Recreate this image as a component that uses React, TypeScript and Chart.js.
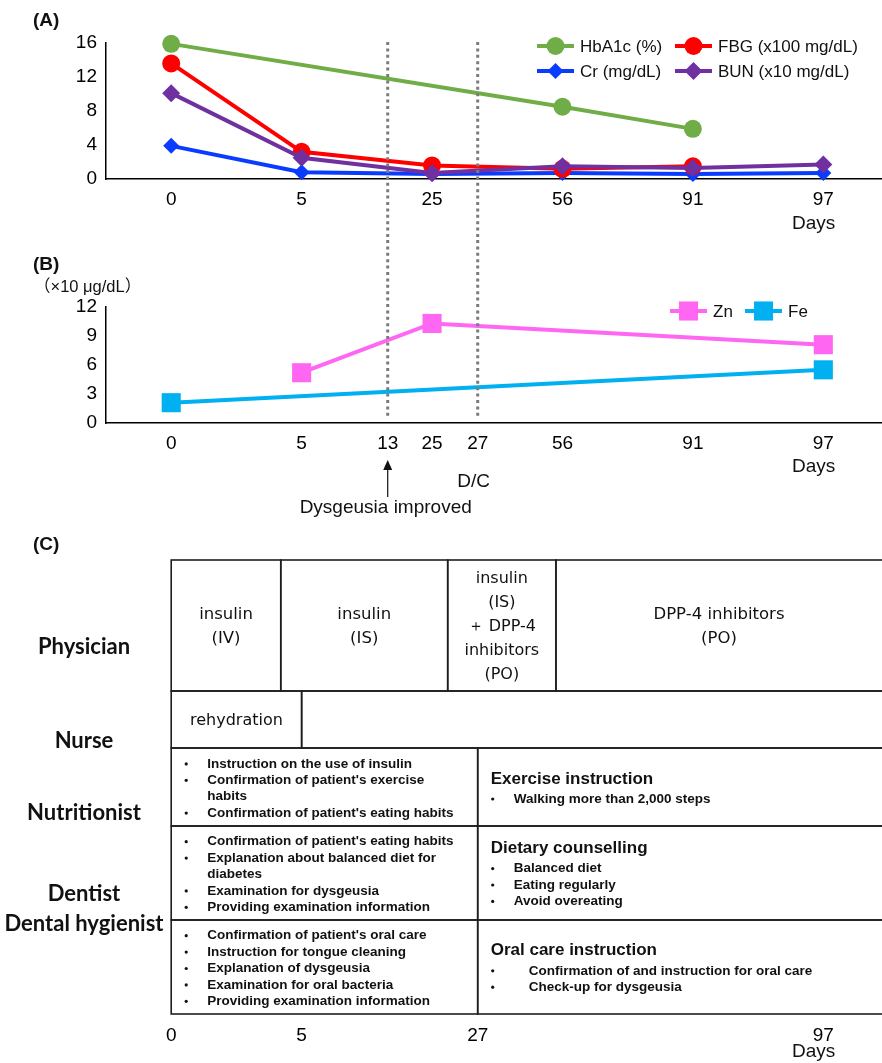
import React, { useEffect, useRef } from 'react';
import { Chart, registerables } from 'chart.js';

Chart.register(...registerables);

const SANS = '"Liberation Sans", Arial, Helvetica, sans-serif';
const WIDE = '"DejaVu Sans", "Liberation Sans", sans-serif';
const ROLE = 'Lato, "Open Sans", sans-serif';
const CJK = '"Liberation Sans", "Noto Sans CJK JP", sans-serif';

// Common horizontal axis: the days shown, and the slot where the figure places each day
const axisDays = [0, 5, 13, 25, 27, 56, 91, 97];
const axisSlots = [0, 1, 1.66, 2, 2.35, 3, 4, 5];
const slotOf = (d: number) => axisSlots[axisDays.indexOf(d)];

// (A) laboratory values
const daysA = [0, 5, 25, 56, 91, 97];
const hba1c = [15.9, null, null, 8.5, 5.9, null];
const fbg = [13.6, 3.2, 1.6, 1.2, 1.5, null];
const cr = [3.9, 0.8, 0.6, 0.7, 0.6, 0.7];
const bun = [10.1, 2.5, 0.7, 1.5, 1.3, 1.7];
const yTicksA = [0, 4, 8, 12, 16];
const labelsA = ['HbA1c (%)', 'FBG (x100 mg/dL)', 'Cr (mg/dL)', 'BUN (x10 mg/dL)'];

// (B) trace elements
const daysB = [0, 5, 13, 25, 27, 56, 91, 97];
const zn = [null, 5.2, null, 10.3, null, null, null, 8.1];
const fe = [2.1, null, null, null, null, null, null, 5.5];
const yTicksB = [0, 3, 6, 9, 12];
const labelsB = ['Zn', 'Fe'];

// Events (dotted lines)
const eventDays = [13, 27];
const eventNotes = ['Dysgeusia improved', 'D/C'];

// (C) care timeline
const daysC = [0, 5, 27, 97];
const roleNames = ['Physician', 'Nurse', 'Nutritionist', 'Dentist', 'Dental hygienist'];
const roleLabelAt = [87, 181, 253, 334, 364];
const rowHeights = [131, 57, 78, 94, 94];
const physicianCells = [
  { from: 0, to: 0.84, text: ['insulin', '(IV)'], size: 16.5 },
  { from: 0.84, to: 2.12, text: ['insulin', '(IS)'], size: 16.5 },
  { from: 2.12, to: 2.95, text: ['insulin', '(IS)', '＋ DPP-4', 'inhibitors', '(PO)'], size: 16 },
  { from: 2.95, to: 5.6, text: ['DPP-4 inhibitors', '(PO)'], size: 16.5 },
];
const nurseCells = [
  { from: 0, to: 1, text: ['rehydration'], size: 16 },
  { from: 1, to: 5.6, text: [], size: 16 },
];
const earlyCare = [
  ['Instruction on the use of insulin', "Confirmation of patient's exercise\nhabits", "Confirmation of patient's eating habits"],
  ["Confirmation of patient's eating habits", 'Explanation about balanced diet for\ndiabetes', 'Examination for dysgeusia', 'Providing examination information'],
  ["Confirmation of patient's oral care", 'Instruction for tongue cleaning', 'Explanation of dysgeusia', 'Examination for oral bacteria', 'Providing examination information'],
];
const laterHeads = ['Exercise instruction', 'Dietary counselling', 'Oral care instruction'];
const laterCare = [
  ['Walking more than 2,000 steps'],
  ['Balanced diet', 'Eating regularly', 'Avoid overeating'],
  ['Confirmation of and instruction for oral care', 'Check-up for dysgeusia'],
];
const careSplit = 2.35;

const X_MIN = -0.5;
const X_MAX = 5.45;

function dayScale(days: number[], axisHeight: number, showLine: boolean, pad: number) {
  return {
    type: 'linear',
    min: X_MIN,
    max: X_MAX,
    grid: { display: false, drawTicks: false },
    border: { display: showLine, color: '#000', width: 1.5 },
    afterBuildTicks: (s: any) => {
      s.ticks = days.map((d) => ({ value: slotOf(d) }));
    },
    afterFit: (s: any) => {
      s.height = axisHeight;
      s.paddingLeft = 0;
      s.paddingRight = 0;
    },
    ticks: {
      autoSkip: false,
      maxRotation: 0,
      minRotation: 0,
      padding: pad,
      color: '#000',
      font: { family: SANS, size: 19 },
      callback: (_v: any, i: number) => String(days[i]),
    },
  };
}

function valueScale(max: number, ticks: number[]) {
  return {
    type: 'linear',
    min: 0,
    max,
    grid: { display: false, drawTicks: false },
    border: { display: true, color: '#000', width: 1.5 },
    afterBuildTicks: (s: any) => {
      s.ticks = ticks.map((v) => ({ value: v }));
    },
    afterFit: (s: any) => {
      s.width = 106;
      s.paddingTop = 0;
      s.paddingBottom = 0;
    },
    ticks: { padding: 9, color: '#000', font: { family: SANS, size: 19 } },
  };
}

function series(label: string, days: number[], vals: (number | null)[], color: string, style: string, radius: number, order: number) {
  return {
    label,
    data: days.flatMap((d, i) => (vals[i] == null ? [] : [{ x: slotOf(d), y: vals[i] as number }])),
    borderColor: color,
    backgroundColor: color,
    borderWidth: 4,
    pointStyle: style,
    pointRadius: radius,
    pointHoverRadius: radius,
    pointBackgroundColor: color,
    pointBorderColor: color,
    pointBorderWidth: 0,
    clip: false,
    tension: 0,
    order,
  };
}

function mark(ctx: CanvasRenderingContext2D, style: string, x: number, y: number, r: number, color: string) {
  ctx.fillStyle = color;
  ctx.beginPath();
  if (style === 'circle') ctx.arc(x, y, r, 0, Math.PI * 2);
  else if (style === 'rectRot') {
    ctx.moveTo(x - r, y);
    ctx.lineTo(x, y - r);
    ctx.lineTo(x + r, y);
    ctx.lineTo(x, y + r);
    ctx.closePath();
  } else {
    const s = r * Math.SQRT1_2;
    ctx.rect(x - s, y - s, 2 * s, 2 * s);
  }
  ctx.fill();
}

function drawLegend(chart: any, x0: number, y0: number, colGap: number, rowGap: number, cols: number) {
  const ctx = chart.ctx as CanvasRenderingContext2D;
  ctx.save();
  ctx.font = `17px ${SANS}`;
  ctx.textBaseline = 'middle';
  ctx.textAlign = 'left';
  chart.data.datasets.forEach((ds: any, i: number) => {
    const x = x0 + (i % cols) * colGap;
    const y = y0 + Math.floor(i / cols) * rowGap;
    ctx.strokeStyle = ds.borderColor;
    ctx.lineWidth = 4;
    ctx.beginPath();
    ctx.moveTo(x, y);
    ctx.lineTo(x + 37, y);
    ctx.stroke();
    mark(ctx, ds.pointStyle, x + 18.5, y, ds.pointRadius, ds.borderColor);
    ctx.fillStyle = '#111';
    ctx.fillText(ds.label, x + 43, y + 1);
  });
  ctx.restore();
}

function dotted(ctx: CanvasRenderingContext2D, xs: number[], y0: number, y1: number) {
  ctx.save();
  ctx.strokeStyle = '#7b7b7b';
  ctx.lineWidth = 3;
  ctx.setLineDash([3, 3.4]);
  xs.forEach((x) => {
    ctx.beginPath();
    ctx.moveTo(x, y0);
    ctx.lineTo(x, y1);
    ctx.stroke();
  });
  ctx.restore();
}

function text(ctx: CanvasRenderingContext2D, s: string, x: number, y: number, font: string, align: CanvasTextAlign = 'left') {
  ctx.save();
  ctx.font = font;
  ctx.fillStyle = '#111';
  ctx.textAlign = align;
  ctx.textBaseline = 'middle';
  ctx.fillText(s, x, y);
  ctx.restore();
}

const overlayA = {
  id: 'overlayA',
  afterDatasetsDraw(chart: any) {
    const x = chart.scales.x;
    dotted(chart.ctx, eventDays.map((d) => x.getPixelForValue(slotOf(d))), chart.chartArea.top - 1, chart.height);
  },
  afterDraw(chart: any) {
    const { ctx, chartArea, scales } = chart;
    text(ctx, '(A)', 33, 21, `bold 19px ${SANS}`);
    text(ctx, 'Days', scales.x.getPixelForValue(5) + 12, chartArea.bottom + 45, `19px ${SANS}`, 'right');
    drawLegend(chart, 537, 46, 138, 25, 2);
  },
};

const overlayB = {
  id: 'overlayB',
  afterDatasetsDraw(chart: any) {
    const x = chart.scales.x;
    dotted(chart.ctx, eventDays.map((d) => x.getPixelForValue(slotOf(d))), 0, chart.chartArea.bottom - 6);
  },
  afterDraw(chart: any) {
    const { ctx, chartArea, scales } = chart;
    const b = chartArea.bottom;
    text(ctx, '(B)', 33, 25, `bold 19px ${SANS}`);
    text(ctx, '（×10 μg/dL）', 34, 47, `16.5px ${CJK}`);
    text(ctx, 'Days', scales.x.getPixelForValue(5) + 12, b + 44, `19px ${SANS}`, 'right');
    const xa = scales.x.getPixelForValue(slotOf(eventDays[0]));
    ctx.save();
    ctx.strokeStyle = '#111';
    ctx.fillStyle = '#111';
    ctx.lineWidth = 1.2;
    ctx.beginPath();
    ctx.moveTo(xa, b + 44);
    ctx.lineTo(xa, b + 74);
    ctx.stroke();
    ctx.beginPath();
    ctx.moveTo(xa, b + 37);
    ctx.lineTo(xa - 4.5, b + 47);
    ctx.lineTo(xa + 4.5, b + 47);
    ctx.closePath();
    ctx.fill();
    ctx.restore();
    text(ctx, eventNotes[0], xa - 2, b + 85, `19px ${SANS}`, 'center');
    text(ctx, eventNotes[1], scales.x.getPixelForValue(slotOf(eventDays[1])) - 4, b + 59, `19px ${SANS}`, 'center');
    drawLegend(chart, 670, 71, 75, 25, 2);
  },
};

const tablePlugin = {
  id: 'careTable',
  afterDraw(chart: any) {
    const { ctx, chartArea, scales } = chart;
    const X = (s: number) => scales.x.getPixelForValue(s);
    const Y = (v: number) => scales.y.getPixelForValue(v);
    const bounds = [0];
    rowHeights.forEach((h) => bounds.push(bounds[bounds.length - 1] + h));
    ctx.save();
    text(ctx, '(C)', 33, 15, `bold 19px ${SANS}`);
    roleNames.forEach((n, i) => text(ctx, n, 84, Y(roleLabelAt[i]), `bold 22px ${ROLE}`, 'center'));
    ctx.strokeStyle = '#1e1e1e';
    ctx.lineWidth = 1.6;
    const box = (s0: number, s1: number, r: number) => {
      ctx.strokeRect(X(s0), Y(bounds[r]), X(s1) - X(s0), Y(bounds[r + 1]) - Y(bounds[r]));
    };
    const centered = (cells: any[], r: number) => {
      cells.forEach((c) => {
        box(c.from, c.to, r);
        const cx = (X(c.from) + Math.min(X(c.to), chartArea.right)) / 2;
        const cy = (Y(bounds[r]) + Y(bounds[r + 1])) / 2 + 1;
        const lh = 24;
        c.text.forEach((t: string, k: number) => {
          text(ctx, t, cx, cy + (k - (c.text.length - 1) / 2) * lh, `${c.size}px ${WIDE}`, 'center');
        });
      });
    };
    centered(physicianCells, 0);
    centered(nurseCells, 1);
    const lh = 16.4;
    const listFont = `bold 13.5px ${SANS}`;
    const bullet = (x: number, y: number) => {
      ctx.beginPath();
      ctx.fillStyle = '#111';
      ctx.arc(x, y, 1.6, 0, Math.PI * 2);
      ctx.fill();
    };
    earlyCare.forEach((items, k) => {
      const r = k + 2;
      box(0, careSplit, r);
      box(careSplit, 5.6, r);
      const lines: [boolean, string][] = [];
      items.forEach((it) => it.split('\n').forEach((s, j) => lines.push([j === 0, s])));
      const cy = (Y(bounds[r]) + Y(bounds[r + 1])) / 2 + 1.5;
      const left = X(0);
      lines.forEach(([b, s], j) => {
        const y = cy + (j - (lines.length - 1) / 2) * lh;
        if (b) bullet(left + 15, y);
        text(ctx, s, left + 36, y, listFont);
      });
      const rl = X(careSplit);
      const later = laterCare[k];
      const indent = k === 2 ? 51 : 36;
      const total = 20 + (later.length - 1) * lh;
      const hy = cy + 0.5 - total / 2;
      text(ctx, laterHeads[k], rl + 13, hy, `bold 17px ${SANS}`);
      later.forEach((s, j) => {
        const y = hy + 20 + j * lh;
        bullet(rl + 15, y);
        text(ctx, s, rl + indent, y, listFont);
      });
    });
    text(ctx, 'Days', X(5) + 12, chartArea.bottom + 38, `19px ${SANS}`, 'right');
    ctx.restore();
  },
};

function makeA(canvas: HTMLCanvasElement) {
  return new Chart(canvas, {
    type: 'line',
    data: {
      datasets: [
        series(labelsA[0], daysA, hba1c, '#70AD47', 'circle', 9, 0),
        series(labelsA[1], daysA, fbg, '#FF0000', 'circle', 9, 2),
        series(labelsA[2], daysA, cr, '#0A3CFF', 'rectRot', 8, 3),
        series(labelsA[3], daysA, bun, '#7030A0', 'rectRot', 9, 1),
      ],
    },
    options: {
      responsive: false,
      animation: false,
      events: [],
      layout: { autoPadding: false, padding: { top: 43, left: 0, right: 0, bottom: 0 } },
      plugins: { legend: { display: false }, tooltip: { enabled: false } },
      scales: { x: dayScale(daysA, 61, true, 9), y: valueScale(16, yTicksA) },
    } as any,
    plugins: [overlayA],
  });
}

function makeB(canvas: HTMLCanvasElement) {
  return new Chart(canvas, {
    type: 'line',
    data: {
      datasets: [
        series(labelsB[0], daysB, zn, '#FF66F2', 'rect', 13.5, 0),
        series(labelsB[1], daysB, fe, '#00B0F0', 'rect', 13.5, 1),
      ],
    },
    options: {
      responsive: false,
      animation: false,
      events: [],
      layout: { autoPadding: false, padding: { top: 67, left: 0, right: 0, bottom: 0 } },
      plugins: { legend: { display: false }, tooltip: { enabled: false } },
      scales: { x: dayScale(daysB, 107, true, 9), y: valueScale(12, yTicksB) },
    } as any,
    plugins: [overlayB],
  });
}

function makeC(canvas: HTMLCanvasElement) {
  const total = rowHeights.reduce((a, b) => a + b, 0);
  return new Chart(canvas, {
    type: 'line',
    data: { datasets: [] },
    options: {
      responsive: false,
      animation: false,
      events: [],
      layout: { autoPadding: false, padding: { top: 30, left: 106, right: 0, bottom: 0 } },
      plugins: { legend: { display: false }, tooltip: { enabled: false } },
      scales: {
        x: dayScale(daysC, 49, false, 10),
        y: { type: 'linear', min: 0, max: total, reverse: true, display: false },
      },
    } as any,
    plugins: [tablePlugin],
  });
}

export default function App() {
  const refA = useRef<HTMLCanvasElement>(null);
  const refB = useRef<HTMLCanvasElement>(null);
  const refC = useRef<HTMLCanvasElement>(null);
  useEffect(() => {
    document.body.style.margin = '0';
    const charts = [makeA(refA.current!), makeB(refB.current!), makeC(refC.current!)];
    return () => charts.forEach((c) => c.destroy());
  }, []);
  return (
    <div style={{ position: 'relative', width: 882, height: 1063, overflow: 'hidden', background: '#fff' }}>
      <canvas ref={refA} width={882} height={240} style={{ position: 'absolute', left: 0, top: 0 }} />
      <canvas ref={refB} width={882} height={290} style={{ position: 'absolute', left: 0, top: 240 }} />
      <canvas ref={refC} width={882} height={533} style={{ position: 'absolute', left: 0, top: 530 }} />
    </div>
  );
}
